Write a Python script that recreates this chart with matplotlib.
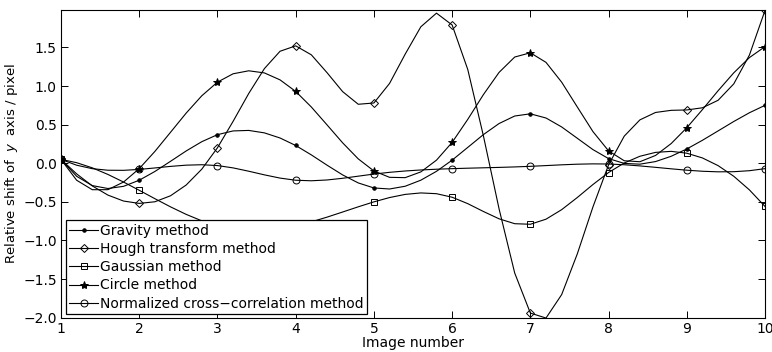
import numpy as np
import matplotlib
matplotlib.use("Agg")
import matplotlib.pyplot as plt

# ---- data ----
images = [1, 2, 3, 4, 5, 6, 7, 8, 9, 10]
gravity = [0.05, -0.22, 0.37, 0.23, -0.32, 0.04, 0.64, 0.06, 0.185, 0.75]
hough = [0.05, -0.52, 0.20, 1.52, 0.78, 1.79, -1.94, -0.02, 0.69, 1.98]
gaussian = [0.05, -0.35, -0.81, -0.81, -0.50, -0.44, -0.79, -0.12, 0.13, -0.56]
circle = [0.05, -0.07, 1.05, 0.93, -0.10, 0.27, 1.43, 0.16, 0.46, 1.51]
ncc = [0.05, -0.08, -0.03, -0.22, -0.14, -0.07, -0.04, -0.01, -0.09, -0.07]

labels = ["Gravity method", "Hough transform method", "Gaussian method",
          "Circle method", "Normalized cross\u2212correlation method"]
y_ticks = [-2.0, -1.5, -1.0, -0.5, 0.0, 0.5, 1.0, 1.5]


def spline_notaknot(x, y, xs):
    """Cubic spline (not-a-knot) through (x, y), evaluated at xs."""
    x = np.asarray(x, float)
    y = np.asarray(y, float)
    n = len(x)
    h = np.diff(x)
    A = np.zeros((n, n))
    b = np.zeros(n)
    for i in range(1, n - 1):
        A[i, i - 1] = h[i - 1]
        A[i, i] = 2 * (h[i - 1] + h[i])
        A[i, i + 1] = h[i]
        b[i] = 6 * ((y[i + 1] - y[i]) / h[i] - (y[i] - y[i - 1]) / h[i - 1])
    A[0, 0], A[0, 1], A[0, 2] = h[1], -(h[0] + h[1]), h[0]
    A[-1, -3], A[-1, -2], A[-1, -1] = h[-1], -(h[-2] + h[-1]), h[-2]
    M = np.linalg.solve(A, b)
    idx = np.clip(np.searchsorted(x, xs) - 1, 0, n - 2)
    hi = h[idx]
    t1 = x[idx + 1] - xs
    t0 = xs - x[idx]
    return (M[idx] * t1 ** 3 / (6 * hi) + M[idx + 1] * t0 ** 3 / (6 * hi)
            + (y[idx] / hi - M[idx] * hi / 6) * t1
            + (y[idx + 1] / hi - M[idx + 1] * hi / 6) * t0)


plt.rcParams['font.family'] = ['DejaVu Sans']
plt.rcParams['mathtext.fontset'] = 'dejavusans'

fig = plt.figure(figsize=(7.72, 3.52), dpi=100)
ax = fig.add_axes([0.079, 0.0974, 0.912, 0.8733])

xs = np.arange(1, 10.0001, 0.2)
series = [gravity, hough, gaussian, circle, ncc]
styles = [
    dict(marker='.', markersize=5, mfc='k'),
    dict(marker='D', markersize=3.6, mfc='none'),
    dict(marker='s', markersize=3.8, mfc='none'),
    dict(marker='*', markersize=6, mfc='k'),
    dict(marker='o', markersize=5, mfc='none'),
]
for vals, st, lab in zip(series, styles, labels):
    ys = spline_notaknot(images, vals, xs)
    ax.plot(xs, ys, color='k', lw=0.8)
    ax.plot(images, vals, linestyle='none', color='k', mec='k', mew=0.7, **st)
    ax.plot([], [], color='k', lw=0.8, mec='k', mew=0.7, label=lab, **st)

ax.set_xlim(1, 10)
ax.set_ylim(-2.0, 1.98)
ax.set_xticks(images)
ax.set_yticks(y_ticks)
ax.set_yticklabels([f"{v:.1f}".replace('-', '\u2212') for v in y_ticks])
ax.tick_params(direction='in', top=True, right=True, length=5, width=0.7,
               labelsize=10, pad=3)
for s in ax.spines.values():
    s.set_linewidth(0.8)

ax.set_xlabel("Image number", fontsize=10, labelpad=0)
ax.set_ylabel(r"Relative shift of  $y$  axis / pixel", fontsize=9.5, labelpad=2)

leg = ax.legend(loc='lower left', bbox_to_anchor=(0.0067, 0.012),
                borderaxespad=0, fontsize=10, numpoints=1, handlelength=2.1,
                handletextpad=0.1, labelspacing=0.3, borderpad=0.25,
                fancybox=False, framealpha=1, edgecolor='k')
leg.get_frame().set_linewidth(0.9)

fig.savefig("out.png", dpi=100, facecolor='white')
